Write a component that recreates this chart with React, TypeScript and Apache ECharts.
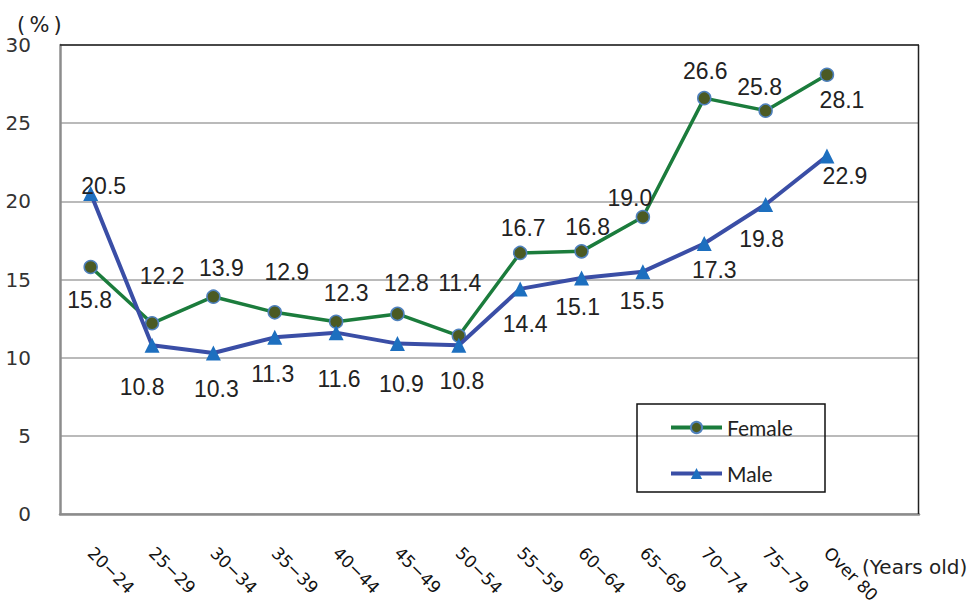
import React, { useEffect, useRef } from "react";
import * as echarts from "echarts";

// Age groups along the x axis
const ageGroups = [
  "20−24", "25−29", "30−34", "35−39", "40−44", "45−49", "50−54",
  "55−59", "60−64", "65−69", "70−74", "75−79", "Over 80",
];

// Rates (%) by age group
const femaleRates = [15.8, 12.2, 13.9, 12.9, 12.3, 12.8, 11.4, 16.7, 16.8, 19.0, 26.6, 25.8, 28.1];
const maleRates = [20.5, 10.8, 10.3, 11.3, 11.6, 10.9, 10.8, 14.4, 15.1, 15.5, 17.3, 19.8, 22.9];

// Value-label placement relative to each point (px)
const femaleLabelOffsets: [number, number][] = [
  [-1, 33], [10, -47], [8, -29], [12, -40], [10, -29], [9, -31], [1, -53],
  [3, -25], [6, -24], [-13, -19], [1, -27], [-6, -24], [15, 25],
];
const maleLabelOffsets: [number, number][] = [
  [13, -8], [-10, 42], [3, 36], [-2, 37], [3, 46], [4, 40], [3, 36],
  [5, 35], [-4, 29], [-1, 29], [10, 26], [-4, 35], [18, 20],
];

const yTicks = { min: 0, max: 30, interval: 5 };

const GRID = { left: 60, right: 57, top: 45, bottom: 99 };

function buildData(values: number[], offsets: [number, number][]) {
  return values.map((v, i) => ({
    value: v,
    label: { offset: offsets[i] },
  }));
}

const labelStyle = {
  show: true,
  position: "inside" as const,
  align: "center" as const,
  verticalAlign: "middle" as const,
  fontFamily: "Liberation Sans",
  fontSize: 23,
  color: "#222",
  formatter: (p: any) => Number(p.value).toFixed(1),
};

export default function App() {
  const ref = useRef<HTMLDivElement>(null);

  useEffect(() => {
    if (!ref.current) return;
    const chart = echarts.init(ref.current, undefined, { renderer: "svg" });
    const W = 976;
    const H = 613;
    const plotRight = W - GRID.right;
    const plotBottom = H - GRID.bottom;

    chart.setOption({
      animation: false,
      backgroundColor: "#fff",
      grid: {
        left: GRID.left,
        right: GRID.right,
        top: GRID.top,
        bottom: GRID.bottom,
        show: false,
      },
      legend: {
        orient: "vertical",
        left: 669,
        top: 417,
        padding: 0,
        itemGap: 25,
        itemWidth: 51,
        itemHeight: 14,
        lineStyle: { width: 4 },
        textStyle: { fontFamily: "Lato", fontSize: 21, color: "#222" },
        data: ["Female", "Male"],
      },
      xAxis: {
        type: "category",
        data: [...ageGroups, ""],
        boundaryGap: true,
        axisLine: { show: true, lineStyle: { color: "#8c8c8c", width: 2.5 } },
        axisTick: { show: false },
        axisLabel: {
          interval: 0,
          rotate: -45,
          margin: 36,
          fontFamily: "DejaVu Sans",
          fontSize: 17,
          color: "#111",
        },
        splitLine: { show: false },
      },
      yAxis: {
        type: "value",
        min: yTicks.min,
        max: yTicks.max,
        interval: yTicks.interval,
        axisLine: { show: true, lineStyle: { color: "#8c8c8c", width: 2.5 } },
        axisTick: { show: false },
        axisLabel: {
          margin: 29,
          fontFamily: "DejaVu Sans",
          fontSize: 20,
          color: "#333",
          padding: [4, 0, 0, 0],
        },
        splitLine: { show: true, lineStyle: { color: "#a3a3a3", width: 1.5 } },
      },
      graphic: [
        {
          type: "line",
          shape: { x1: GRID.left, y1: GRID.top, x2: plotRight, y2: GRID.top },
          style: { stroke: "#222", lineWidth: 1.5 },
          z: 5,
        },
        {
          type: "line",
          shape: { x1: plotRight - 0.5, y1: GRID.top, x2: plotRight - 0.5, y2: plotBottom },
          style: { stroke: "#222", lineWidth: 1.5 },
          z: 5,
        },
        {
          type: "rect",
          shape: { x: 637, y: 404, width: 188, height: 88 },
          style: { fill: "none", stroke: "#111", lineWidth: 1.5 },
          z: 5,
        },
        {
          type: "text",
          x: 17,
          y: 25,
          style: {
            text: "(\u2009%\u2009)",
            fontFamily: "DejaVu Sans",
            fontSize: 21,
            fill: "#222",
            verticalAlign: "middle",
          },
        },
        {
          type: "text",
          x: 862,
          y: 567,
          style: {
            text: "(Years old)",
            fontFamily: "DejaVu Sans",
            fontSize: 20,
            fill: "#222",
            verticalAlign: "middle",
          },
        },
      ],
      series: [
        {
          name: "Female",
          type: "line",
          data: buildData(femaleRates, femaleLabelOffsets),
          symbol: "circle",
          symbolSize: 13,
          lineStyle: { color: "#1b7c3c", width: 3.5 },
          itemStyle: { color: "#4b5a23", borderColor: "#4f81bd", borderWidth: 1.5 },
          label: labelStyle,
          z: 2,
        },
        {
          name: "Male",
          type: "line",
          data: buildData(maleRates, maleLabelOffsets),
          symbol: "triangle",
          symbolSize: 15,
          lineStyle: { color: "#3a4ea6", width: 4 },
          itemStyle: { color: "#1d6fbf" },
          label: labelStyle,
          z: 3,
        },
      ],
    });

    return () => chart.dispose();
  }, []);

  return <div ref={ref} style={{ width: 976, height: 613, position: "absolute", left: 0, top: 0 }} />;
}
